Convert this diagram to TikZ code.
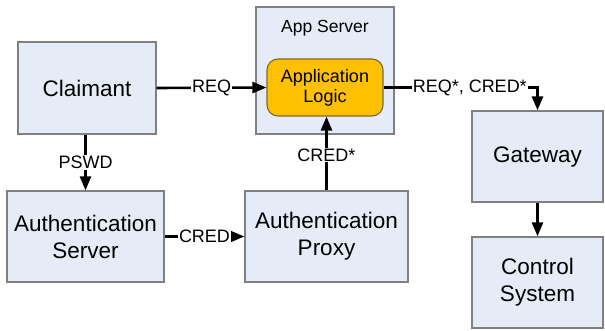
\documentclass[tikz,border=0pt]{standalone}
\usepackage{fontspec}
\setmainfont{Liberation Sans}
\usetikzlibrary{arrows.meta}
\definecolor{boxfill}{HTML}{E6ECF7}
\definecolor{boxdraw}{HTML}{808080}
\definecolor{logicfill}{HTML}{FFC000}
\definecolor{logicdraw}{HTML}{7F6A2A}
\tikzset{
  box/.style={draw=boxdraw, fill=boxfill, line width=1.3pt, align=center,
    font=\fontsize{22.5}{27}\selectfont, inner sep=0pt},
  logic/.style={draw=logicdraw, fill=logicfill, line width=1.1pt, rounded corners=11pt,
    align=center, font=\fontsize{18}{22}\selectfont, inner sep=0pt},
  conn/.style={line width=2.6pt, -{Triangle[length=14pt,width=11pt]}},
  lbl/.style={fill=white, inner sep=1pt, font=\fontsize{18}{20}\selectfont}
}
\begin{document}
\begin{tikzpicture}[x=1pt,y=-1pt]
\useasboundingbox (0,0) rectangle (605,331);
\node[box, minimum width=138pt, minimum height=92pt] (claim) at (87,88) {Claimant};
\node[box, minimum width=138pt, minimum height=127pt] (apps) at (325,70.5) {};
\node[font=\fontsize{17.5}{20}\selectfont] (appslbl) at (325,28) {App Server};
\node[logic, minimum width=116pt, minimum height=57pt] (logic) at (325,87.5) {Application\\[-2pt]Logic};
\node[box, minimum width=131pt, minimum height=91pt] (gate) at (537.5,156.5) {Gateway};
\node[box, minimum width=131pt, minimum height=91pt] (ctrl) at (537.5,282.5) {Control\\System};
\node[box, minimum width=157pt, minimum height=91pt] (aserv) at (85.5,236.5) {Authentication\\Server};
\node[box, minimum width=163pt, minimum height=91pt] (aprox) at (326.5,236.5) {Authentication\\Proxy};
\draw[conn] (claim.east) -- node[lbl] {REQ} (logic.west);
\draw[conn] (logic.east) -| node[lbl, pos=0.28] {REQ*, CRED*} (gate.north);
\draw[conn] (gate.south) -- (ctrl.north);
\draw[conn] (claim.south -| aserv.north) -- node[lbl] {PSWD} (aserv.north);
\draw[conn] (aserv.east) -- node[lbl] {CRED} (aprox.west);
\draw[conn] (aprox.north) -- node[lbl, pos=0.48] {CRED*} (aprox.north |- logic.south);
\end{tikzpicture}
\end{document}
